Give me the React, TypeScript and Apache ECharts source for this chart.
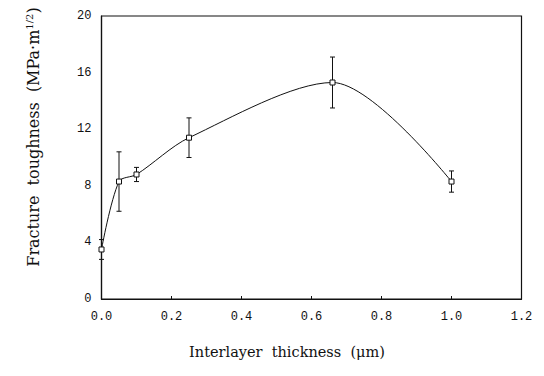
import React, { useEffect, useRef } from "react";
import * as echarts from "echarts";

// Interlayer thickness (µm) and measured fracture toughness (MPa·m^1/2)
const thickness = [0, 0.05, 0.1, 0.25, 0.66, 1.0];
const toughness = [3.5, 8.3, 8.8, 11.4, 15.3, 8.3];
const errorHalf = [0.7, 2.1, 0.5, 1.4, 1.8, 0.75];
const xTicks = [0, 0.2, 0.4, 0.6, 0.8, 1.0, 1.2];
const yTicks = [0, 4, 8, 12, 16, 20];

export default function App() {
  const ref = useRef<HTMLDivElement>(null);

  useEffect(() => {
    if (!ref.current) return;
    const chart = echarts.init(ref.current, null, { renderer: "svg" });

    const points = thickness.map((x, i) => [x, toughness[i]]);
    const bars = thickness.map((x, i) => [x, toughness[i] - errorHalf[i], toughness[i] + errorHalf[i]]);

    chart.setOption({
      animation: false,
      backgroundColor: "#ffffff",
      grid: {
        left: 101.5,
        right: 22.5,
        top: 16,
        bottom: 77,
        show: true,
        borderColor: "#111",
        borderWidth: 1.2,
        backgroundColor: "transparent",
      },
      xAxis: {
        type: "value",
        min: 0,
        max: 1.2,
        interval: 0.2,
        axisLine: { show: true, lineStyle: { color: "#111", width: 1.2 } },
        axisTick: { show: true, inside: true, length: 3, lineStyle: { color: "#111" } },
        splitLine: { show: false },
        axisLabel: {
          margin: 12,
          color: "#111",
          fontFamily: "Liberation Mono",
          fontSize: 12,
          formatter: (v: number) => xTicks.find((t) => Math.abs(t - v) < 1e-6)!.toFixed(1),
        },
      },
      yAxis: {
        type: "value",
        min: 0,
        max: 20,
        interval: 4,
        axisLine: { show: true, lineStyle: { color: "#111", width: 1.2 } },
        axisTick: { show: false },
        splitLine: { show: false },
        axisLabel: {
          margin: 10,
          color: "#111",
          fontFamily: "Liberation Mono",
          fontSize: 12,
          formatter: (v: number) => String(yTicks.find((t) => Math.abs(t - v) < 1e-6)),
        },
      },
      graphic: [
        {
          type: "text",
          x: 33,
          y: 137,
          rotation: Math.PI / 2,
          style: {
            text: "Fracture  toughness  (MPa·m{sup|1/2})",
            fill: "#111",
            font: '16px "DejaVu Serif"',
            align: "center",
            verticalAlign: "middle",
            rich: {
              sup: { fontSize: 10, verticalAlign: "top", padding: [0, 0, 8, 0], fontFamily: "DejaVu Serif" },
            },
          },
        },
        {
          type: "text",
          x: 287,
          y: 352,
          style: {
            text: "Interlayer  thickness  (μm)",
            fill: "#111",
            font: '14.5px "DejaVu Serif"',
            align: "center",
            verticalAlign: "middle",
          },
        },
      ],
      series: [
        {
          type: "line",
          data: points,
          smooth: 0.3,
          symbol: "rect",
          symbolSize: 5,
          lineStyle: { color: "#111", width: 1 },
          itemStyle: { color: "#fff", borderColor: "#111", borderWidth: 1 },
          z: 3,
        },
        {
          type: "custom",
          data: bars,
          z: 2,
          renderItem: (params: any, api: any) => {
            const x = api.value(0);
            const lo = api.coord([x, api.value(1)]);
            const hi = api.coord([x, api.value(2)]);
            const cap = 2.5;
            const style = { stroke: "#111", lineWidth: 1 };
            return {
              type: "group",
              children: [
                { type: "line", shape: { x1: lo[0], y1: lo[1], x2: hi[0], y2: hi[1] }, style },
                { type: "line", shape: { x1: lo[0] - cap, y1: lo[1], x2: lo[0] + cap, y2: lo[1] }, style },
                { type: "line", shape: { x1: hi[0] - cap, y1: hi[1], x2: hi[0] + cap, y2: hi[1] }, style },
              ],
            };
          },
        },
      ],
    });

    return () => chart.dispose();
  }, []);

  return (
    <div
      ref={ref}
      style={{ position: "fixed", left: 0, top: 0, width: 544, height: 376, background: "#fff" }}
    />
  );
}
